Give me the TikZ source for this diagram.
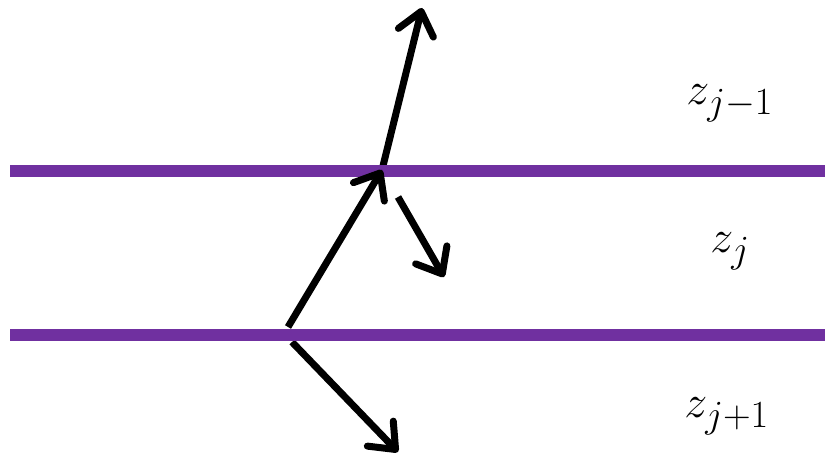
\documentclass[tikz,border=0pt]{standalone}
\usepackage{xcolor}
\usepackage{tikz}
\usetikzlibrary{arrows.meta}
\definecolor{LayerPurple}{HTML}{7030A0}

\begin{document}
\begin{tikzpicture}[
  x=1pt, y=1pt,
  ray/.style={line width=7pt,-{Straight Barb[length=22pt,width=36pt,round]}},
  layer/.style={draw=LayerPurple,line width=12pt},
  lbl/.style={inner sep=0pt,font=\Huge,scale=1.85}
]
  \useasboundingbox (0,0) rectangle (825,454);

  \coordinate (inc) at (288,127);
  \coordinate (hit) at (382,284);
  \coordinate (out) at (422,446);
  \coordinate (rfl) at (292,112);
  \coordinate (rflEnd) at (398,2);
  \coordinate (rfu) at (398,257);
  \coordinate (rfuEnd) at (444,177);

  \coordinate (topL) at (10,283);
  \coordinate (topR) at (825,283);
  \coordinate (botL) at (10,119);
  \coordinate (botR) at (825,119);

  \draw[ray] (hit) -- (out);
  \draw[ray] (rfl) -- (rflEnd);
  \draw[ray] (rfu) -- (rfuEnd);

  \draw[layer] (topL) -- (topR);
  \draw[layer] (botL) -- (botR);

  \draw[ray] (inc) -- (hit);

  \node[lbl,anchor=base west] (zprev) at (686,349) {$z_{j-1}$};
  \node[lbl,anchor=base west] (zcur) at (710,201) {$z_{j}$};
  \node[lbl,anchor=base west] (znext) at (684,36) {$z_{j+1}$};
\end{tikzpicture}
\end{document}
